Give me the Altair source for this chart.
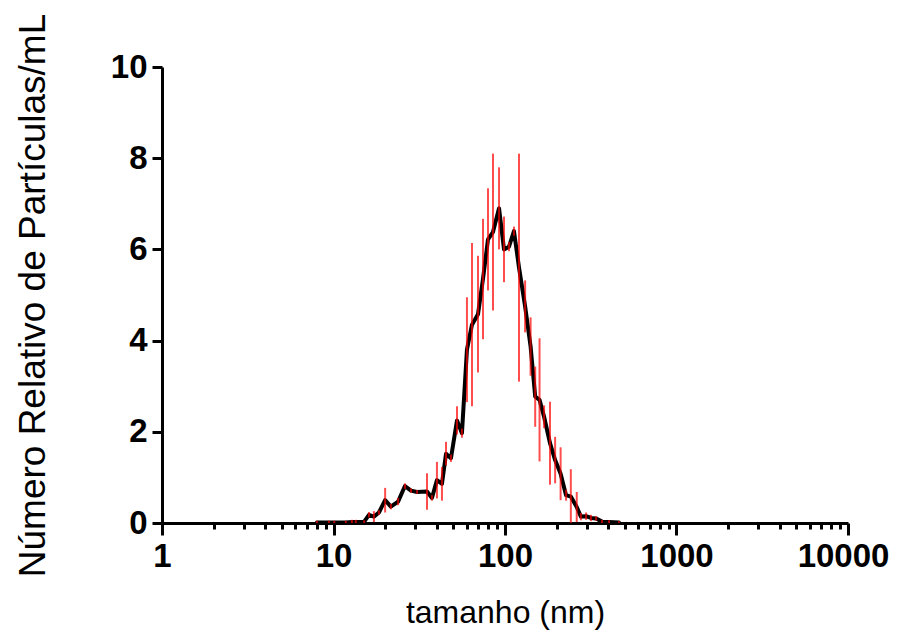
import altair as alt
import pandas as pd

# Particle size (nm), mean relative number, standard deviation
size_nm = [8.0, 9.4, 10.1, 11.8, 12.8, 13.5, 15.1, 16.1, 17.2, 18.4,
           20.0, 21.6, 23.8, 26.1, 28.3, 30.7, 35.1, 37.5, 40.1, 42.9,
           45.3, 48.4, 52.5, 56.1, 60.0, 64.2, 69.6, 74.4, 79.6, 85.1,
           92.3, 98.7, 105.5, 112.8, 120.7, 131, 141, 150, 159, 169,
           183, 196, 211, 227, 242, 262, 277, 297, 317, 340,
           368, 404, 462]
mean_rel = [0.01, 0.01, 0.01, 0.01, 0.02, 0.02, 0.03, 0.18, 0.14, 0.23,
            0.50, 0.36, 0.47, 0.81, 0.71, 0.68, 0.69, 0.55, 0.94, 0.86,
            1.52, 1.42, 2.25, 1.97, 3.80, 4.35, 4.58, 5.35, 6.22, 6.38,
            6.90, 6.00, 6.06, 6.40, 5.60, 4.75, 3.87, 2.77, 2.70, 2.33,
            1.75, 1.38, 1.08, 0.61, 0.58, 0.35, 0.14, 0.15, 0.11, 0.10,
            0.03, 0.02, 0.01]
sd_rel = [0.04, 0.04, 0.04, 0.04, 0.05, 0.05, 0.03, 0.06, 0.12, 0.05,
          0.27, 0.06, 0.08, 0.06, 0.05, 0.04, 0.40, 0.06, 0.40, 0.37,
          0.26, 0.08, 0.31, 0.10, 1.15, 1.79, 1.28, 1.32, 1.12, 1.72,
          0.90, 0.72, 0.10, 0.10, 2.50, 0.57, 0.64, 0.66, 1.35, 0.25,
          0.91, 0.51, 0.58, 0.12, 0.60, 0.33, 0.08, 0.08, 0.07, 0.05,
          0.04, 0.04, 0.03]

major_x = [1, 10, 100, 1000, 10000]
minor_x = [m * 10 ** k for k in range(4) for m in range(2, 10)]
y_ticks = [0, 2, 4, 6, 8, 10]

df = pd.DataFrame({"size": size_nm, "mean": mean_rel, "sd": sd_rel})

FONT = "Liberation Sans"
xscale = alt.Scale(type="log", domain=[1, 10000], nice=False)
yscale = alt.Scale(domain=[0, 10], nice=False)

x_axis = alt.Axis(
    values=major_x, format="d", title="tamanho (nm)", grid=False,
    domainColor="black", domainWidth=3, tickColor="black", tickWidth=3,
    tickSize=12, labelFont=FONT, labelFontSize=33, labelFontWeight="bold",
    labelColor="black", labelPadding=5, labelFlush=False, labelOverlap=False,
    labelOffset={"condition": {"test": "datum.value == 10000", "value": -5}, "value": 0},
    titleFont=FONT, titleFontSize=32, titleFontWeight="normal",
    titleColor="black", titlePadding=24,
)
y_axis = alt.Axis(
    values=y_ticks, title="Número Relativo de Partículas/mL", grid=False,
    domainColor="black", domainWidth=3, tickColor="black", tickWidth=3,
    tickSize=10, labelFont=FONT, labelFontSize=33, labelFontWeight="bold",
    labelColor="black", labelPadding=5, labelOverlap=False,
    titleFont=FONT, titleFontSize=37, titleFontWeight="normal",
    titleColor="black", titlePadding=58,
)
minor_axis = alt.Axis(
    values=minor_x, labels=False, tickSize=6, tickWidth=3, tickColor="black",
    domain=False, grid=False, orient="bottom", title=None,
)

line = alt.Chart(df).mark_line(
    color="black", strokeWidth=4, strokeJoin="round", strokeCap="round"
).encode(
    x=alt.X("size:Q", scale=xscale, axis=x_axis),
    y=alt.Y("mean:Q", scale=yscale, axis=y_axis),
)

bars = alt.Chart(df).transform_calculate(
    lo="max(0, datum.mean - datum.sd)", hi="datum.mean + datum.sd"
).mark_rule(color="red", strokeWidth=2, opacity=0.7).encode(
    x=alt.X("size:Q", scale=xscale, axis=minor_axis),
    y=alt.Y("lo:Q", scale=yscale, axis=y_axis),
    y2="hi:Q",
)

chart = alt.layer(line, bars).resolve_axis(x="independent").properties(
    width=686, height=456,
    autosize=alt.AutoSizeParams(type="none"),
    padding={"left": 154, "top": 59, "right": 42, "bottom": 110},
).configure_view(stroke=None)

chart.save("out.html", embed_options={"renderer": "svg", "actions": False})
